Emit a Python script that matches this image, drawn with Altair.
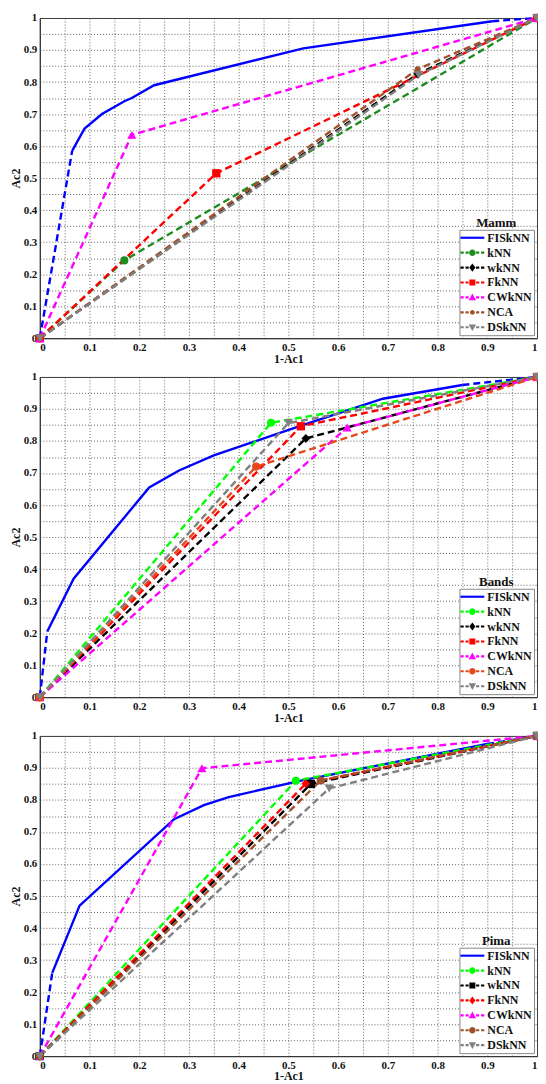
import altair as alt
import pandas as pd

SERIES = ["FISkNN", "kNN", "wkNN", "FkNN", "CWkNN", "NCA", "DSkNN"]
PANELS = ["Mamm", "Bands", "Pima"]
TICKS = [0, 0.05, 0.1, 0.15, 0.2, 0.25, 0.3, 0.35, 0.4, 0.45, 0.5,
         0.55, 0.6, 0.65, 0.7, 0.75, 0.8, 0.85, 0.9, 0.95, 1]

# ---------------- Mamm ----------------
mamm_fisknn_x = [0, 0.065, 0.09, 0.125, 0.17, 0.185, 0.23, 0.53, 0.91, 1]
mamm_fisknn_y = [0, 0.585, 0.655, 0.70, 0.74, 0.75, 0.79, 0.905, 0.99, 1]
mamm_knn_x = [0, 0.17, 1]
mamm_knn_y = [0, 0.243, 1]
mamm_wknn_x = [0, 0.76, 1]
mamm_wknn_y = [0, 0.825, 1]
mamm_fknn_x = [0, 0.355, 1]
mamm_fknn_y = [0, 0.515, 1]
mamm_cwknn_x = [0, 0.185, 1]
mamm_cwknn_y = [0, 0.635, 1]
mamm_nca_x = [0, 0.76, 1]
mamm_nca_y = [0, 0.84, 1]
mamm_dsknn_x = [0, 0.762, 1]
mamm_dsknn_y = [0, 0.822, 1]

# ---------------- Bands ----------------
bands_fisknn_x = [0, 0.015, 0.068, 0.22, 0.28, 0.35, 0.53, 0.69, 0.85, 1]
bands_fisknn_y = [0, 0.205, 0.37, 0.655, 0.708, 0.755, 0.85, 0.932, 0.975, 1]
bands_knn_x = [0, 0.465, 1]
bands_knn_y = [0, 0.857, 1]
bands_wknn_x = [0, 0.535, 1]
bands_wknn_y = [0, 0.808, 1]
bands_fknn_x = [0, 0.525, 1]
bands_fknn_y = [0, 0.846, 1]
bands_cwknn_x = [0, 0.618, 1]
bands_cwknn_y = [0, 0.842, 1]
bands_nca_x = [0, 0.435, 1]
bands_nca_y = [0, 0.72, 1]
bands_dsknn_x = [0, 0.5, 1]
bands_dsknn_y = [0, 0.856, 1]

# ---------------- Pima ----------------
pima_fisknn_x = [0, 0.025, 0.08, 0.27, 0.33, 0.38, 0.53, 0.9, 1]
pima_fisknn_y = [0, 0.26, 0.47, 0.74, 0.784, 0.809, 0.862, 0.975, 1]
pima_knn_x = [0, 0.515, 1]
pima_knn_y = [0, 0.86, 1]
pima_wknn_x = [0, 0.545, 1]
pima_wknn_y = [0, 0.85, 1]
pima_fknn_x = [0, 0.535, 1]
pima_fknn_y = [0, 0.851, 1]
pima_cwknn_x = [0, 0.326, 1]
pima_cwknn_y = [0, 0.899, 1]
pima_nca_x = [0, 0.565, 1]
pima_nca_y = [0, 0.861, 1]
pima_dsknn_x = [0, 0.582, 1]
pima_dsknn_y = [0, 0.836, 1]

DATA = {
    "Mamm": [(mamm_fisknn_x, mamm_fisknn_y), (mamm_knn_x, mamm_knn_y),
             (mamm_wknn_x, mamm_wknn_y), (mamm_fknn_x, mamm_fknn_y),
             (mamm_cwknn_x, mamm_cwknn_y), (mamm_nca_x, mamm_nca_y),
             (mamm_dsknn_x, mamm_dsknn_y)],
    "Bands": [(bands_fisknn_x, bands_fisknn_y), (bands_knn_x, bands_knn_y),
              (bands_wknn_x, bands_wknn_y), (bands_fknn_x, bands_fknn_y),
              (bands_cwknn_x, bands_cwknn_y), (bands_nca_x, bands_nca_y),
              (bands_dsknn_x, bands_dsknn_y)],
    "Pima": [(pima_fisknn_x, pima_fisknn_y), (pima_knn_x, pima_knn_y),
             (pima_wknn_x, pima_wknn_y), (pima_fknn_x, pima_fknn_y),
             (pima_cwknn_x, pima_cwknn_y), (pima_nca_x, pima_nca_y),
             (pima_dsknn_x, pima_dsknn_y)],
}

# ---------------- styles ----------------
COLORS = {
    "Mamm": ["#0000ff", "#1e8c1e", "#000000", "#ff0000", "#ff00ff", "#a0522d", "#808080"],
    "Bands": ["#0000ff", "#00ff00", "#000000", "#ff0000", "#ff00ff", "#e8461c", "#808080"],
    "Pima": ["#0000ff", "#00ff00", "#000000", "#ff0000", "#ff00ff", "#a0522d", "#808080"],
}
MARKERS = {
    "Mamm": [None, "circle", "diamond", "square", "triangle-up", "dot", "triangle-down"],
    "Bands": [None, "circle", "diamond", "square", "triangle-up", "circle", "triangle-down"],
    "Pima": [None, "circle", "square", "diamond", "triangle-up", "circle", "triangle-down"],
}
MARK_SHAPE = {"circle": "circle", "dot": "circle", "diamond": "diamond", "square": "square",
              "triangle-up": "triangle-up", "triangle-down": "triangle-down"}
MARK_SIZE = {"circle": 66, "dot": 38, "diamond": 80, "square": 70,
             "triangle-up": 85, "triangle-down": 85}

# legend glyphs (unit = 6 px): line drawn as thin filled bars, plus the marker
SOLID = "M-2,-0.18H2V0.18H-2Z"
DASHES = ("M-2,-0.18H-1.45V0.18H-2Z M-1.15,-0.18H-0.62V0.18H-1.15Z "
          "M0.62,-0.18H1.15V0.18H0.62Z M1.45,-0.18H2V0.18H1.45Z")
GLYPH = {
    "circle": "M0.55,0A0.55,0.55 0 1,1 -0.55,0A0.55,0.55 0 1,1 0.55,0Z",
    "dot": "M0.4,0A0.4,0.4 0 1,1 -0.4,0A0.4,0.4 0 1,1 0.4,0Z",
    "square": "M-0.5,-0.5H0.5V0.5H-0.5Z",
    "diamond": "M0,-0.68L0.52,0L0,0.68L-0.52,0Z",
    "triangle-up": "M0,-0.65L0.62,0.48L-0.62,0.48Z",
    "triangle-down": "M0,0.65L0.62,-0.48L-0.62,-0.48Z",
}


def legend_paths(markers):
    return [SOLID if m is None else DASHES + " " + GLYPH[m] for m in markers]


label_expr = "round(datum.value*20) % 2 == 0 ? format(datum.value, '~g') : ''"

W, H = 500, 322


def panel(name):
    colors = COLORS[name]
    markers = MARKERS[name]
    line_rows, pt_rows = [], []
    for s, (xs, ys), m, c in zip(SERIES, DATA[name], markers, colors):
        n = len(xs)
        if m is None:
            segs = [("a", True, range(0, 2)), ("m", False, range(1, n - 1)),
                    ("b", True, range(n - 2, n))]
        else:
            segs = [("m", True, range(0, n))]
        for sid, dashed, idx in segs:
            for k, i in enumerate(idx):
                line_rows.append({"series": s, "seg": s + sid, "dashed": dashed,
                                  "x": xs[i], "y": ys[i], "o": k, "c": c})
        if m is not None:
            for i in range(n):
                pt_rows.append({"series": s, "x": xs[i], "y": ys[i], "c": c,
                                "mk": MARK_SHAPE[m], "sz": MARK_SIZE[m]})
    lines = pd.DataFrame(line_rows)
    pts = pd.DataFrame(pt_rows)

    xenc = alt.X("x:Q", scale=alt.Scale(domain=[0, 1], nice=False, zero=False),
                 axis=alt.Axis(values=TICKS, labelExpr=label_expr, title="1-Ac1",
                               labelFlush=True))
    yenc = alt.Y("y:Q", scale=alt.Scale(domain=[0, 1], nice=False, zero=False),
                 axis=alt.Axis(values=TICKS, labelExpr=label_expr, title="Ac2"))

    base = alt.Chart(lines).encode(
        x=xenc, y=yenc,
        color=alt.Color("c:N", scale=None),
        detail="seg:N", order="o:Q")
    solid = base.transform_filter("!datum.dashed").mark_line(strokeWidth=2.4)
    dashed = base.transform_filter("datum.dashed").mark_line(strokeWidth=2.4, strokeDash=[7, 4])

    points = alt.Chart(pts).mark_point(filled=True, opacity=1).encode(
        x=xenc, y=yenc,
        color=alt.Color("c:N", scale=None),
        shape=alt.Shape("mk:N", scale=None),
        size=alt.Size("sz:Q", scale=None))

    leg = alt.Chart(pd.DataFrame({"series": SERIES})).mark_point(
        filled=True, opacity=0, size=4).encode(
        x=alt.value(250), y=alt.value(150),
        color=alt.Color("series:N", scale=alt.Scale(domain=SERIES, range=colors),
                        legend=alt.Legend(title=None)),
        shape=alt.Shape("series:N", scale=alt.Scale(domain=SERIES, range=legend_paths(markers)),
                        legend=alt.Legend(title=None)))

    ttl = alt.Chart(pd.DataFrame({"t": [name]})).mark_text(
        font="Liberation Serif", fontWeight="bold", fontSize=13, color="#111",
        align="center", baseline="middle").encode(
        text="t:N", x=alt.value(459), y=alt.value(206))

    return alt.layer(solid, dashed, points, leg, ttl).properties(width=W, height=H)


chart = alt.vconcat(*[panel(p) for p in PANELS], spacing=5).resolve_scale(
    color="independent", shape="independent").resolve_legend(
    color="independent", shape="independent").properties(
    padding={"left": 0, "top": 0, "right": -5, "bottom": 0}
).configure_axis(
    labelFont="Liberation Serif", labelFontWeight="bold", labelFontSize=11, labelColor="#111",
    titleFont="Liberation Serif", titleFontWeight="bold", titleFontSize=12, titleColor="#111",
    grid=True, gridColor="#555", gridDash=[1, 2], gridWidth=1, gridOpacity=0.9,
    domainColor="#333", domainWidth=1, ticks=False, labelPadding=3,
    labelFlush=False, labelOverlap=False, titlePadding=1
).configure_view(
    stroke="#333", strokeWidth=1
).configure_legend(
    orient="bottom-right", offset=3, padding=2, strokeColor="#888", fillColor="#ffffff",
    labelFont="Liberation Serif", labelFontWeight="bold", labelFontSize=12, labelColor="#111",
    symbolSize=144, symbolOpacity=1, symbolStrokeWidth=0, rowPadding=3,
    symbolOffset=5, labelOffset=9
)

chart.save("out.html", embed_options={"renderer": "svg", "actions": False})
